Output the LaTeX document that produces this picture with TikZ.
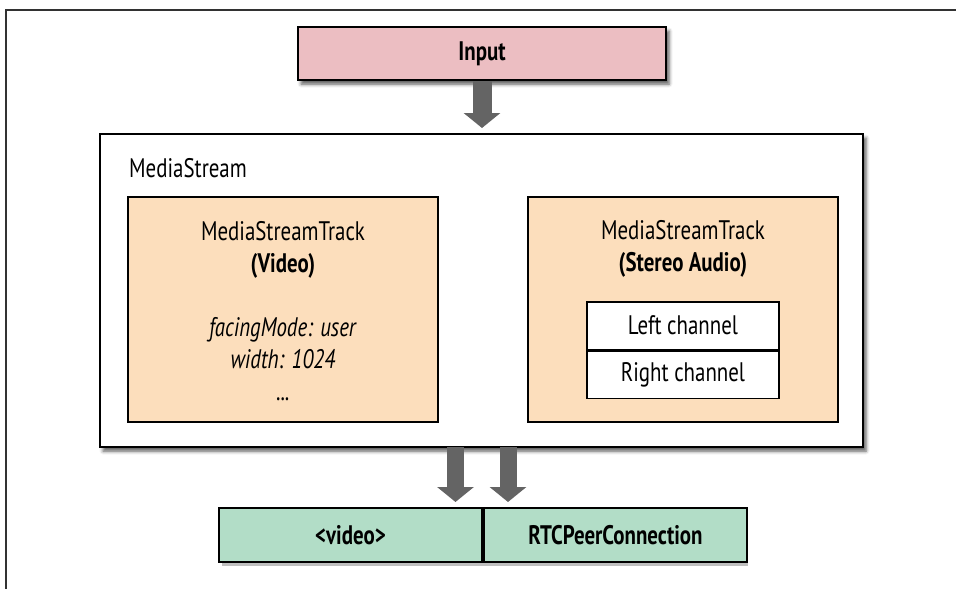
\documentclass[tikz,border=0pt]{standalone}
\usepackage{fontspec}
\setmainfont{PT Sans}[FakeStretch=0.78]
\usetikzlibrary{arrows.meta,shadows.blur,backgrounds}
\definecolor{inputfill}{RGB}{236,190,194}
\definecolor{trackfill}{RGB}{252,222,188}
\definecolor{outfill}{RGB}{178,221,199}
\definecolor{arrowgray}{RGB}{100,100,100}
\definecolor{framegray}{RGB}{50,50,50}
\newcommand{\mainsize}{\fontsize{26.8}{32}\selectfont}
\tikzset{
  boxbase/.style={draw=black, rectangle, inner sep=0pt, align=center,
    font=\mainsize},
  shadowed/.style={blur shadow={shadow xshift=3pt, shadow yshift=-4pt,
    shadow blur radius=3.5pt, shadow opacity=65}},
  inbox/.style={boxbase, fill=inputfill, line width=2pt, shadowed, font=\mainsize\bfseries},
  outerbox/.style={boxbase, fill=white, line width=2pt, shadowed},
  trackbox/.style={boxbase, fill=trackfill, line width=1.6pt},
  chanbox/.style={boxbase, fill=white, line width=1.5pt},
  outbox/.style={boxbase, fill=outfill, line width=2pt, font=\mainsize\bfseries},
  txt/.style={inner sep=0pt, align=center, font=\mainsize},
  bigarrow/.style={draw=arrowgray, line width=#1, line cap=butt,
    -{Triangle[width=36pt,length=15pt]}},
}
\begin{document}
\begin{tikzpicture}[x=1pt,y=-1pt]
\useasboundingbox (0,0) rectangle (956,589);
% frame
\draw[framegray, line width=1.4pt] (6,589) -- (6,10) -- (956,10);

% input
\node[inbox, minimum width=368, minimum height=53] (input) at (482,53.5) {Input};

% MediaStream outer box
\node[outerbox, minimum width=763, minimum height=313] (outer) at (481.5,290.5) {};
\node[txt, anchor=base west] (mslabel) at (129,177) {MediaStream};

% video track
\node[trackbox, minimum width=310, minimum height=225] (vtrack) at (283,309.5) {};
\node[txt, anchor=center] (vtext) at (283,311) {MediaStreamTrack\\\textbf{(Video)}\\[32pt]\textit{facingMode: user}\\\textit{width: 1024}\\\textit{...}};

% audio track
\node[trackbox, minimum width=310, minimum height=225] (atrack) at (683,309.5) {};
\node[txt, anchor=north] (atext) at (683,220) {MediaStreamTrack\\\textbf{(Stereo Audio)}};
\node[chanbox, minimum width=192, minimum height=47.5] (left) at (683,325.5) {Left channel};
\node[chanbox, minimum width=192, minimum height=47.5, anchor=north] (right) at (left.south) {Right channel};

% bottom boxes
\node[outbox, minimum width=263, minimum height=54] (video) at (350.5,535) {<video>};
\node[outbox, minimum width=263, minimum height=54, anchor=west] (rtc) at (video.east) {RTCPeerConnection};
\begin{scope}[on background layer]
\fill[black!50, opacity=0.5] (222,512) rectangle (748,566);
\end{scope}

% arrows
\draw[bigarrow=19pt] (input.south) -- (482,128);
\coordinate (a1s) at (455.5,447);
\coordinate (a2s) at (508,447);
\draw[bigarrow=17pt, shorten >=5pt] (a1s) -- (a1s |- video.north);
\draw[bigarrow=17pt, shorten >=5pt] (a2s) -- (a2s |- rtc.north);
\end{tikzpicture}
\end{document}
